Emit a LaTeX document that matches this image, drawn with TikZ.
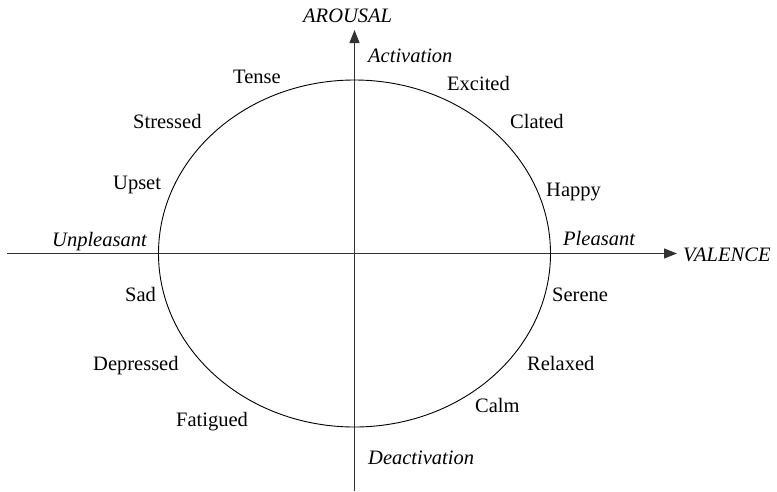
\documentclass[tikz,border=0pt]{standalone}
\usepackage{fontspec}
\setmainfont{Liberation Serif}
\usepackage{tikz}
\usetikzlibrary{arrows.meta}

\tikzset{
  axis/.style={line width=1.2pt, black!80, -{Triangle[length=13pt,width=10pt]}},
  mood/.style={anchor=base west, inner sep=0pt, font=\fontsize{20.5}{24}\selectfont},
  pole/.style={mood, font=\fontsize{20.5}{24}\selectfont\itshape}
}

\begin{document}
\begin{tikzpicture}[x=1pt,y=-1pt]
        \useasboundingbox (0,0) rectangle (777,491);
        \coordinate (o) at (354.5,253.5);
        \coordinate (w) at (7,253.5);
        \coordinate (e) at (677,253.5);
        \coordinate (s) at (354.5,491);
        \coordinate (n) at (354.5,30);
        \draw[axis](w)--(e);
        \draw[axis](s)--(n);
        \draw[line width=0.9pt](o) ellipse [x radius=196, y radius=173.5];
        % axis names and poles
        \node[pole] (arousal) at (303,22){AROUSAL};
        \node[pole] (valence) at (683,261){VALENCE};
        \node[pole] (activation) at (368,62){Activation};
        \node[pole] (deactivation) at (368,464){Deactivation};
        \node[pole] (pleasant) at (563,245){Pleasant};
        \node[pole] (unpleasant) at (52,246){Unpleasant};
        % upper half
        \node[mood] (tense) at (233,83){Tense};
        \node[mood] (stressed) at (133,128){Stressed};
        \node[mood] (upset) at (113,189){Upset};
        \node[mood] (excited) at (447,90){Excited};
        \node[mood] (clated) at (510,128){Clated};
        \node[mood] (happy) at (546,196){Happy};
        % lower half
        \node[mood] (sad) at (125,301){Sad};
        \node[mood] (depressed) at (93,370){Depressed};
        \node[mood] (fatigued) at (176,426){Fatigued};
        \node[mood] (serene) at (552,301){Serene};
        \node[mood] (relaxed) at (527,370){Relaxed};
        \node[mood] (calm) at (475,412){Calm};
    \end{tikzpicture}
\end{document}
